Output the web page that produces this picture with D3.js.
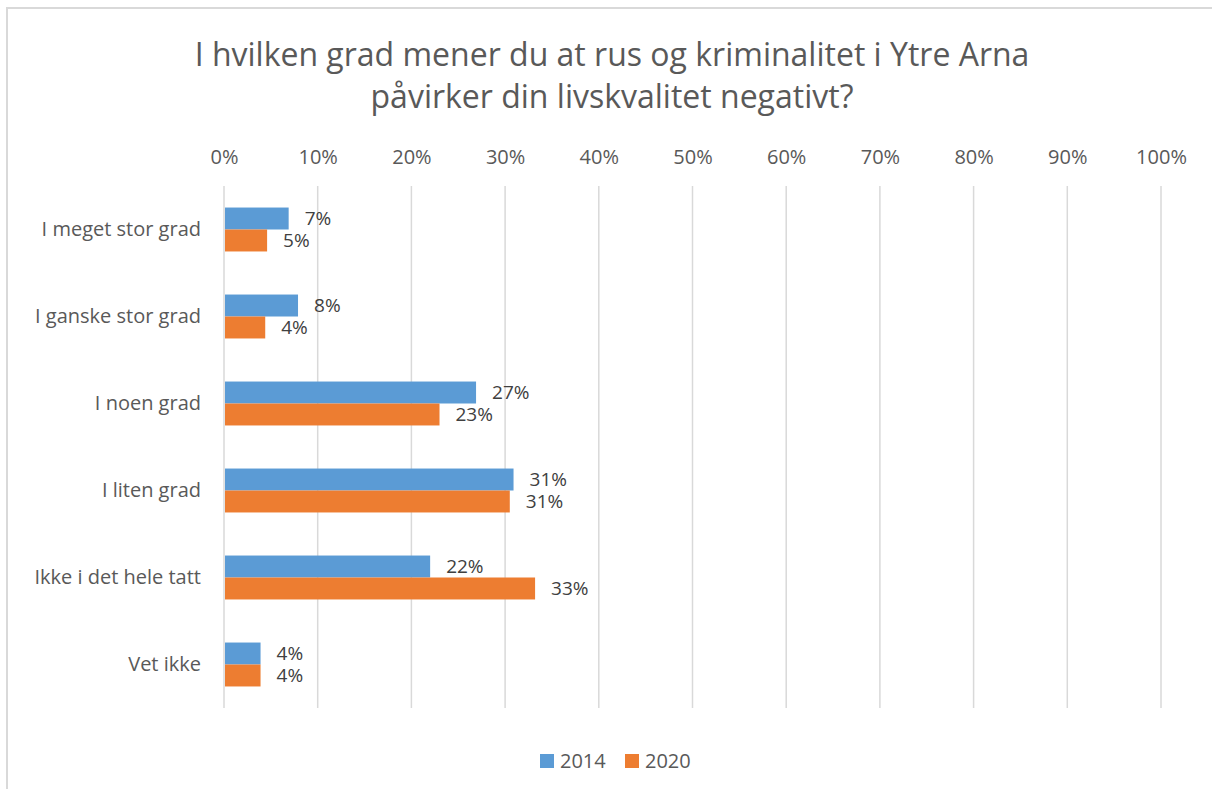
<!DOCTYPE html>
<html>
<head>
<meta charset="utf-8">
<script src="https://cdn.jsdelivr.net/npm/d3@7"></script>
<style>
  body { margin: 0; background: #fff; }
  svg { display: block; font-family: 'Open Sans', sans-serif; }
</style>
</head>
<body>
<svg width="1212" height="789"></svg>
<script>
const categories = ['I meget stor grad', 'I ganske stor grad', 'I noen grad', 'I liten grad', 'Ikke i det hele tatt', 'Vet ikke']
const series = ['2014', '2020']
const values2014 = [6.9, 7.9, 26.9, 30.9, 22.0, 3.9]
const values2020 = [4.6, 4.4, 23.0, 30.5, 33.2, 3.9]
const labels2014 = ['7%', '8%', '27%', '31%', '22%', '4%']
const labels2020 = ['5%', '4%', '23%', '31%', '33%', '4%']
const ticks = [0, 10, 20, 30, 40, 50, 60, 70, 80, 90, 100]
const titleLines = ['I hvilken grad mener du at rus og kriminalitet i Ytre Arna', 'påvirker din livskvalitet negativt?']

const colors = { '2014': '#5b9bd5', '2020': '#ed7d31' }

const svg = d3.select('svg')

// chart border (only top and left visible in the crop)
svg.append('path')
   .attr('d', 'M7,789 V8 H1212')
   .attr('fill', 'none')
   .attr('stroke', '#d9d9d9')
   .attr('stroke-width', 2)

const x = d3.scaleLinear().domain([0, 100]).range([224, 1161])
const y = d3.scaleBand().domain(categories).range([186, 708]).padding(0)
const ySub = d3.scaleBand().domain(series).range([0, y.bandwidth()]).paddingInner(0).paddingOuter(0.98)

svg.append('g')
   .selectAll('text')
   .data(titleLines)
   .enter().append('text')
   .attr('x', 612)
   .attr('y', (d, i) => 66 + i * 42)
   .attr('text-anchor', 'middle')
   .attr('font-size', 32)
   .attr('fill', '#595959')
   .text(d => d)

// gridlines
svg.append('g')
   .selectAll('line')
   .data(ticks)
   .enter().append('line')
   .attr('x1', d => x(d))
   .attr('x2', d => x(d))
   .attr('y1', 186)
   .attr('y2', 708)
   .attr('stroke', '#d9d9d9')
   .attr('stroke-width', 1.5)

// top axis labels
const xAxis = d3.axisTop(x).tickValues(ticks).tickFormat(d => d + '%').tickSize(0).tickPadding(0)
const gx = svg.append('g').attr('transform', 'translate(0,164)').call(xAxis)
gx.select('.domain').remove()
gx.selectAll('text')
  .attr('font-family', "'Open Sans', sans-serif")
  .attr('font-size', 20)
  .attr('fill', '#595959')

// category labels
const yAxis = d3.axisLeft(y).tickSize(0).tickPadding(0)
const gy = svg.append('g').attr('transform', 'translate(201,0)').call(yAxis)
gy.select('.domain').remove()
gy.selectAll('text')
  .attr('font-family', "'Open Sans', sans-serif")
  .attr('font-size', 20)
  .attr('fill', '#595959')

const rows = categories.map((c, i) => ({
  cat: c,
  bars: [
    { key: '2014', value: values2014[i], label: labels2014[i] },
    { key: '2020', value: values2020[i], label: labels2020[i] }
  ]
}))

const group = svg.append('g')
                 .selectAll('g')
                 .data(rows)
                 .enter().append('g')
                 .attr('transform', d => 'translate(0,' + y(d.cat) + ')')

group.selectAll('rect')
     .data(d => d.bars)
     .enter().append('rect')
     .attr('x', x(0) + 1)
     .attr('y', d => ySub(d.key))
     .attr('width', d => x(d.value) - x(0) - 1)
     .attr('height', ySub.bandwidth())
     .attr('fill', d => colors[d.key])

group.selectAll('text')
     .data(d => d.bars)
     .enter().append('text')
     .attr('x', d => x(d.value) + 16)
     .attr('y', d => ySub(d.key) + ySub.bandwidth() / 2)
     .attr('dy', '0.35em')
     .attr('font-size', 19)
     .attr('fill', '#404040')
     .text(d => d.label)

// legend
const legend = svg.append('g')
                  .selectAll('g')
                  .data(series)
                  .enter().append('g')
                  .attr('transform', (d, i) => 'translate(' + (540 + i * 85) + ',754)')

legend.append('rect')
      .attr('width', 14)
      .attr('height', 14)
      .attr('fill', d => colors[d])

legend.append('text')
      .attr('x', 20)
      .attr('y', 7)
      .attr('dy', '0.35em')
      .attr('font-size', 20)
      .attr('fill', '#595959')
      .text(d => d)
</script>
</body>
</html>
